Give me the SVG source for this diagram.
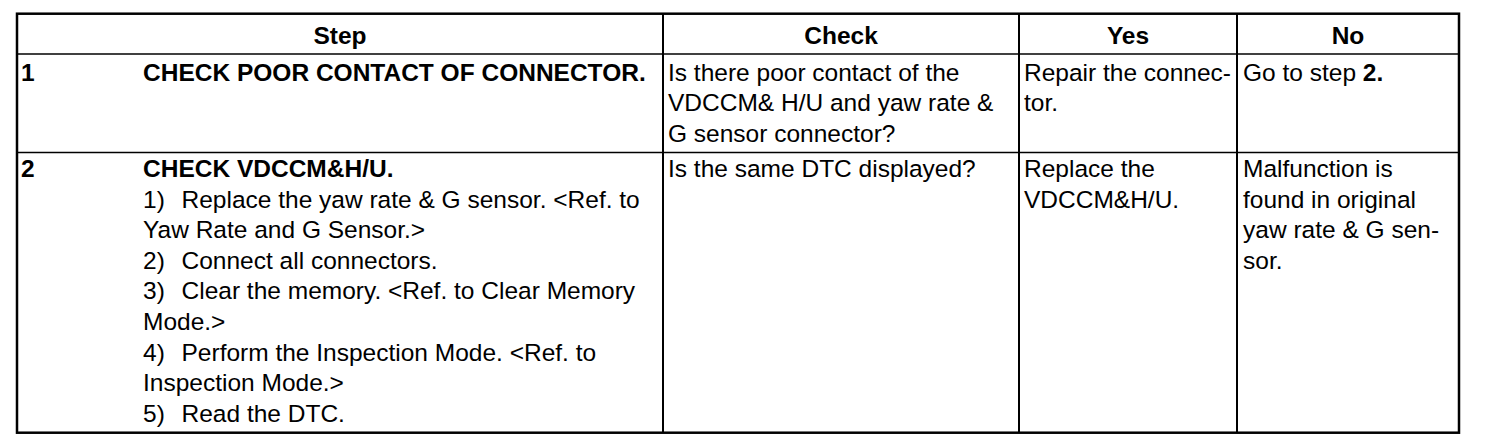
<svg xmlns="http://www.w3.org/2000/svg" width="1504" height="448" viewBox="0 0 1504 448">
<style>
text{font-family:"Liberation Sans",Arial,Helvetica,sans-serif;font-size:24.5px;fill:#000}
.b{font-weight:bold}
.hd{font-weight:bold;text-anchor:middle}
.outer{fill:none;stroke:#000;stroke-width:2.5}
.col{stroke:#000;stroke-width:2}
.row{stroke:#000;stroke-width:1.5}
</style>
<rect width="1504" height="448" fill="#fff"/>
<g id="grid">
<rect class="outer" x="17" y="13.7" width="1442" height="419"/>
<line class="row" x1="17" y1="54" x2="1459" y2="54"/>
<line class="row" x1="17" y1="152.5" x2="1459" y2="152.5"/>
<line class="col" x1="663" y1="13.7" x2="663" y2="432.7"/>
<line class="col" x1="1019" y1="13.7" x2="1019" y2="432.7"/>
<line class="col" x1="1237" y1="13.7" x2="1237" y2="432.7"/>
</g>
<g id="header">
<text class="hd" x="340" y="43.5">Step</text>
<text class="hd" x="841" y="43.5">Check</text>
<text class="hd" x="1128" y="43.5">Yes</text>
<text class="hd" x="1348" y="43.5">No</text>
</g>
<g id="row1">
<text class="b" x="21" y="80.5">1</text>
<text class="b" x="143" y="80.5">CHECK POOR CONTACT OF CONNECTOR.</text>
<text x="668" y="80.5">Is there poor contact of the</text>
<text x="668" y="111">VDCCM&amp; H/U and yaw rate &amp;</text>
<text x="668" y="141.5">G sensor connector?</text>
<text x="1024" y="80.5">Repair the connec-</text>
<text x="1024" y="111">tor.</text>
<text x="1243" y="80.5">Go to step <tspan class="b">2.</tspan></text>
</g>
<g id="row2">
<text class="b" x="21" y="177">2</text>
<text class="b" x="143" y="177">CHECK VDCCM&amp;H/U.</text>
<text x="143" y="207.6">1)<tspan x="181.5">Replace the yaw rate &amp; G sensor. &lt;Ref. to</tspan></text>
<text x="143" y="238.2">Yaw Rate and G Sensor.&gt;</text>
<text x="143" y="268.8">2)<tspan x="181.5">Connect all connectors.</tspan></text>
<text x="143" y="299.4">3)<tspan x="181.5">Clear the memory. &lt;Ref. to Clear Memory</tspan></text>
<text x="143" y="330">Mode.&gt;</text>
<text x="143" y="360.6">4)<tspan x="181.5">Perform the Inspection Mode. &lt;Ref. to</tspan></text>
<text x="143" y="391.2">Inspection Mode.&gt;</text>
<text x="143" y="421.8">5)<tspan x="181.5">Read the DTC.</tspan></text>
<text x="668" y="177">Is the same DTC displayed?</text>
<text x="1024" y="177">Replace the</text>
<text x="1024" y="207.6">VDCCM&amp;H/U.</text>
<text x="1243" y="177">Malfunction is</text>
<text x="1243" y="207.6">found in original</text>
<text x="1243" y="238.2">yaw rate &amp; G sen-</text>
<text x="1243" y="268.8">sor.</text>
</g>
</svg>
